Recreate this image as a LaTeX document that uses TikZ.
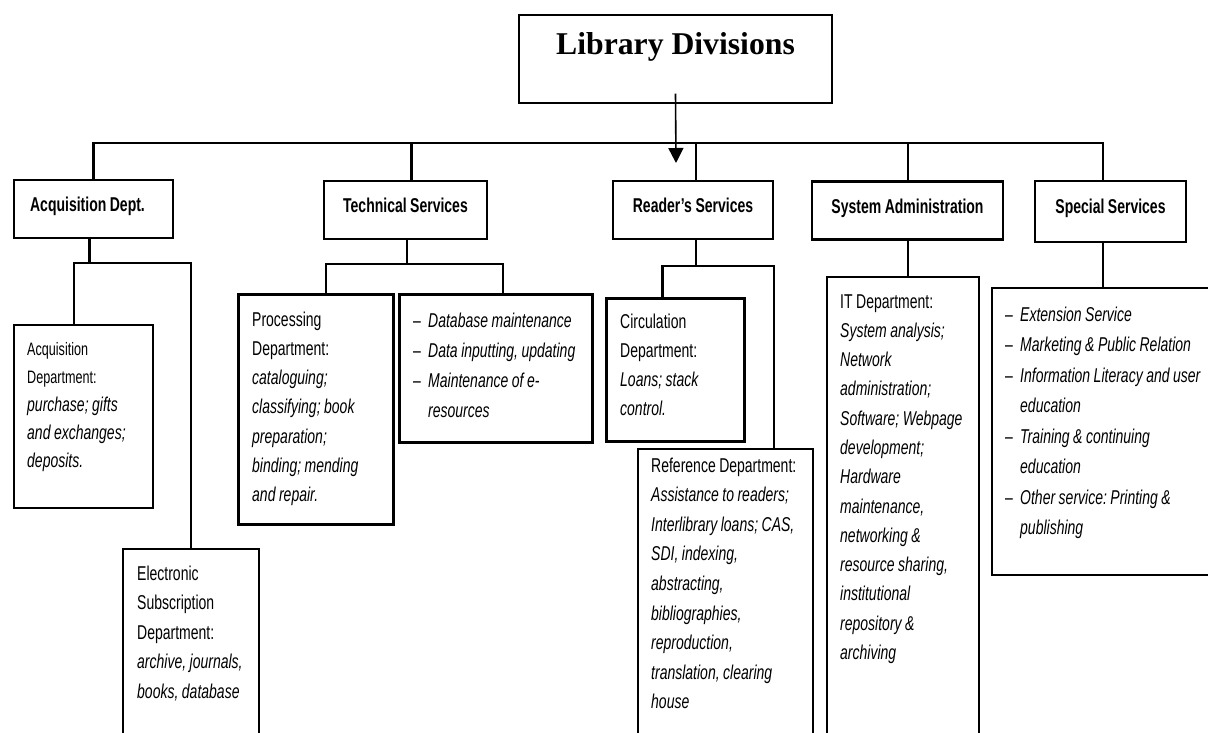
\documentclass[tikz,border=0pt]{standalone}
\usepackage{fontspec}
\setmainfont{Liberation Sans}[FakeStretch=0.7,WordSpace=0.9]
\newfontfamily\titlefont{Liberation Serif}
\usetikzlibrary{arrows.meta}
\newcommand\itemdash{\makebox[15pt][l]{--}}
\newcommand\itemgap{\hspace*{15pt}}
\frenchspacing
\begin{document}
\begin{tikzpicture}[x=1pt,y=-1pt,
    unit/.style={draw,line width=2.2pt,inner sep=0pt},
    sub/.style={unit,anchor=north west},
    head/.style={unit,minimum height=58pt,text height=15pt,text depth=10pt,
      font=\fontsize{20}{24}\selectfont\bfseries},
    desc/.style={anchor=base west,inner sep=0pt,align=flush left,text width=230pt,
      font=\fontsize{20}{29.5}\selectfont},
    conn/.style={line width=2.2pt}]
  \useasboundingbox (0,0) rectangle (1208,733);
  \clip (0,0) rectangle (1208,733);

  % top of the chart
  \node[draw,line width=1.4pt,minimum width=313pt,minimum height=88pt,
    text height=22pt,text depth=30pt,
    font=\titlefont\fontsize{31.7}{36}\selectfont\bfseries] (title) at (675.5,59) {Library Divisions};
  \coordinate (bus) at (0,143);
  \coordinate (arr) at (676,163);

  \node[head,minimum width=159pt] (acq) at (93.5,209) {Acquisition Dept.\hspace*{12pt}};
  \node[head,minimum width=163pt] (tech) at (405.5,210) {Technical Services};
  \node[head,minimum width=160pt] (read) at (693,210) {Reader's Services};
  \node[head,minimum width=191pt] (sys) at (907.5,210.5) {System Administration};
  \node[head,minimum width=151pt,minimum height=61pt] (spec) at (1110.5,211.5) {Special Services};

  \draw[conn] (acq.north) |- ([xshift=-7.5pt]spec.north |- bus) -- ([xshift=-7.5pt]spec.north);
  \foreach \n/\dx in {tech/6,read/3,sys/0.5}
    \draw[conn] ([xshift=\dx pt]\n.north) -- ([xshift=\dx pt]\n.north |- bus);
  \draw[line width=1.6pt,-{Triangle[width=15pt,length=15pt]}] ([yshift=10pt]title.south) -- (arr);

  % acquisition
  \node[sub,minimum width=139pt,minimum height=183pt] (acqd) at (13,324) {};
  \node[desc,font=\fontsize{20}{28}\selectfont] (acqd-t) at ([shift={(14,31)}]acqd.north west)
    {\fontsize{18}{28}\selectfont Acquisition\\Department:\\
     \fontsize{20}{28}\selectfont\itshape purchase; gifts\\and exchanges;\\deposits.};
  \node[sub,minimum width=136pt,minimum height=220pt] (esd) at (122,548) {};
  \node[desc] (esd-t) at ([shift={(15,32)}]esd.north west)
    {Electronic\\Subscription\\Department:\\\itshape archive, journals,\\books, database};
  \coordinate (acqbus) at (0,263);
  \draw[conn] ([xshift=-4pt]acq.south) -- ([xshift=-4pt]acq.south |- acqbus);
  \draw[conn] ([xshift=-9.5pt]acqd.north) |- (esd.north |- acqbus) -- (esd.north);

  % technical services
  \node[sub,line width=3.2pt,minimum width=155pt,minimum height=230pt] (proc) at (237,293) {};
  \node[desc,font=\fontsize{20}{29.3}\selectfont] (proc-t) at ([shift={(15,33)}]proc.north west)
    {Processing\\Department:\\\itshape cataloguing;\\classifying; book\\preparation;\\binding; mending\\and repair.};
  \node[sub,line width=2.6pt,minimum width=193pt,minimum height=148pt] (db) at (398,293) {};
  \node[desc,font=\fontsize{20}{30}\selectfont] (db-t) at ([shift={(15,34)}]db.north west)
    {\itemdash\textit{Database maintenance}\\\itemdash\textit{Data inputting, updating}\\
     \itemdash\textit{Maintenance of e-}\\\itemgap\textit{resources}};
  \coordinate (techbus) at (0,264);
  \draw[conn] ([xshift=1.5pt]tech.south) -- ([xshift=1.5pt]tech.south |- techbus);
  \draw[conn] ([xshift=9.5pt]proc.north) |- ([xshift=7.5pt]db.north |- techbus) -- ([xshift=7.5pt]db.north);

  % reader's services
  \node[sub,line width=3pt,minimum width=138pt,minimum height=143pt] (circ) at (605,297) {};
  \node[desc,font=\fontsize{20}{29}\selectfont] (circ-t) at ([shift={(15,31)}]circ.north west)
    {Circulation\\Department:\\\itshape Loans; stack\\control.};
  \node[sub,minimum width=175pt,minimum height=300pt] (ref) at (637,448) {};
  \node[desc,font=\fontsize{20}{29.6}\selectfont] (ref-t) at ([shift={(14,24)}]ref.north west)
    {Reference Department:\\\itshape Assistance to readers;\\Interlibrary loans; CAS,\\SDI, indexing,\\abstracting,\\
     bibliographies,\\reproduction,\\translation, clearing\\house};
  \coordinate (readbus) at (0,266);
  \draw[conn] ([xshift=3pt]read.south) -- ([xshift=3pt]read.south |- readbus);
  \draw[conn] ([xshift=-13pt]circ.north) |- ([xshift=48.5pt]ref.north |- readbus) -- ([xshift=48.5pt]ref.north);

  % system administration
  \node[sub,minimum width=152pt,minimum height=470pt] (itd) at (826,276) {};
  \node[desc,font=\fontsize{20}{29.3}\selectfont] (itd-t) at ([shift={(14,32)}]itd.north west)
    {IT Department:\\\itshape System analysis;\\Network\\administration;\\Software; Webpage\\development;\\
     Hardware\\maintenance,\\networking \&\\resource sharing,\\institutional\\repository \&\\archiving};
  \draw[conn] ([xshift=0.5pt]sys.south) -- ([xshift=0.5pt]sys.south |- itd.north);

  % special services
  \node[sub,minimum width=240pt,minimum height=287pt] (spd) at (991,287) {};
  \node[desc,font=\fontsize{20}{30.5}\selectfont] (spd-t) at ([shift={(14,34)}]spd.north west)
    {\itemdash\textit{Extension Service}\\\itemdash\textit{Marketing \& Public Relation}\\
     \itemdash\textit{Information Literacy and user}\\\itemgap\textit{education}\\
     \itemdash\textit{Training \& continuing}\\\itemgap\textit{education}\\
     \itemdash\textit{Other service: Printing \&}\\\itemgap\textit{publishing}};
  \draw[conn] ([xshift=-7.5pt]spec.south) -- ([xshift=-7.5pt]spec.south |- spd.north);
\end{tikzpicture}
\end{document}
